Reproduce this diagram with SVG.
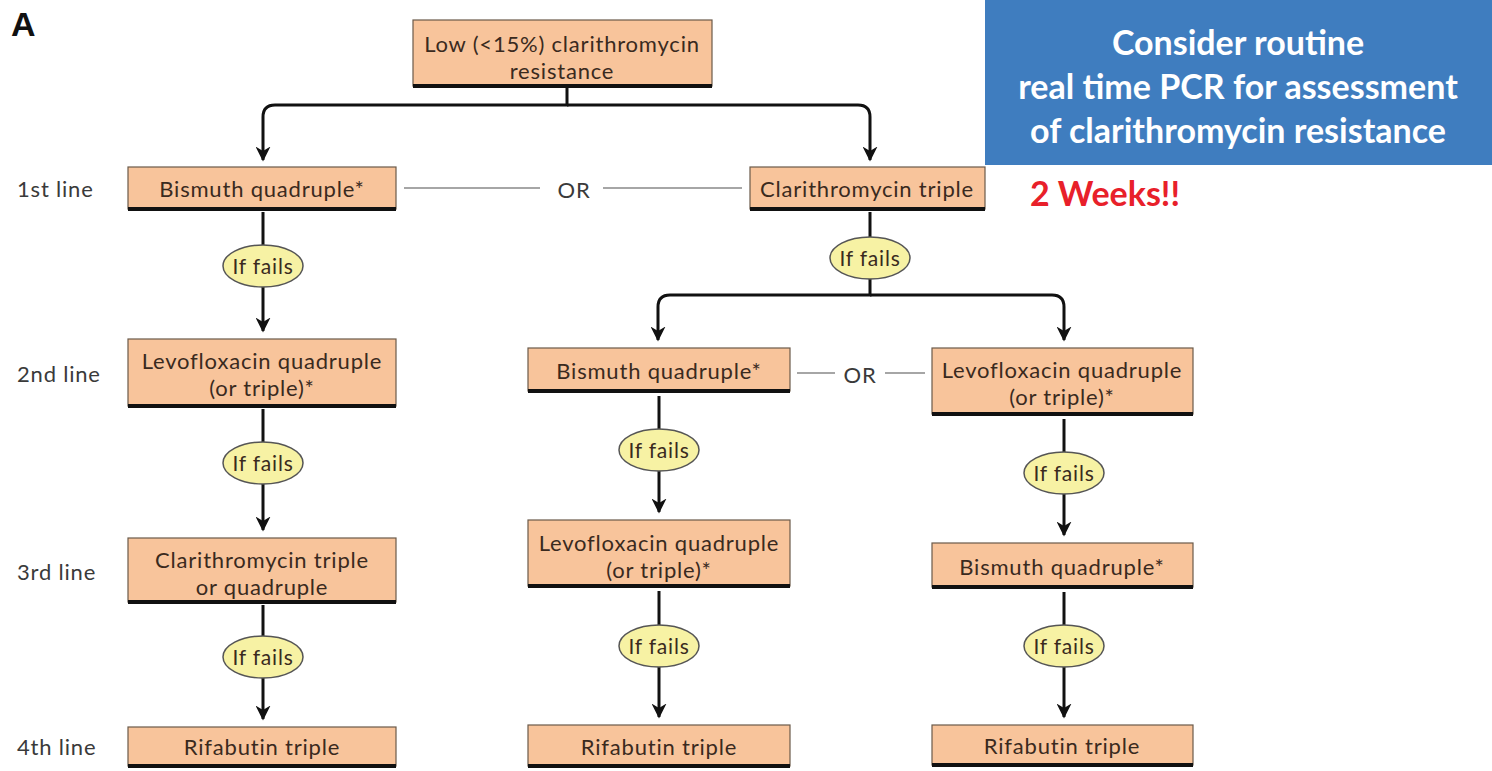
<svg xmlns="http://www.w3.org/2000/svg" width="1492" height="771" viewBox="0 0 1492 771">
  <defs>
    <marker id="arrow" viewBox="0 0 10 10" refX="9" refY="5" markerWidth="5" markerHeight="5" orient="auto" markerUnits="strokeWidth">
      <path d="M0,0 L10,5 L0,10 L3,5 Z" fill="#111"/>
    </marker>
  </defs>
  <style>
    .box { fill: #f8c49b; stroke: #6b5a4a; stroke-width: 1.2; }
    .base { stroke: #111; stroke-width: 4; }
    .txt { font-family: Lato, "Open Sans", "Liberation Sans", sans-serif; font-size: 22px; letter-spacing: 0.8px; fill: #3a2a1e; text-anchor: middle; dominant-baseline: central; }
    .lbl { font-family: Lato, "Open Sans", "Liberation Sans", sans-serif; font-size: 22px; letter-spacing: 0.8px; fill: #3a3a3a; dominant-baseline: central; }
    .fail { fill: #f7f2a4; stroke: #555; stroke-width: 1.5; }
    .ftxt { font-family: Lato, "Open Sans", "Liberation Sans", sans-serif; font-size: 21px; letter-spacing: 0.8px; fill: #3a2a1e; text-anchor: middle; dominant-baseline: central; }
    .flow { fill: none; stroke: #111; stroke-width: 3; }
    .or { stroke: #888; stroke-width: 1.5; }
    .ortxt { font-family: Lato, "Open Sans", "Liberation Sans", sans-serif; font-size: 22px; letter-spacing: 0.8px; fill: #3a3a3a; text-anchor: middle; dominant-baseline: central; }
    .note { font-family: Lato, "Open Sans", "Liberation Sans", sans-serif; font-weight: bold; font-size: 34px; fill: #ffffff; text-anchor: middle; dominant-baseline: central; }
  </style>

  <rect width="1492" height="771" fill="#ffffff"/>

  <text x="11" y="24" font-family="'Liberation Sans', Arial, sans-serif" font-weight="bold" font-size="34" fill="#111" dominant-baseline="central">A</text>

  <!-- row labels -->
  <g id="row-labels">
    <text class="lbl" x="17" y="188">1st line</text>
    <text class="lbl" x="17" y="373">2nd line</text>
    <text class="lbl" x="17" y="571">3rd line</text>
    <text class="lbl" x="17" y="746">4th line</text>
  </g>

  <!-- connectors -->
  <g id="connectors">
    <path class="flow" d="M567,88 V105 H275 Q263,105 263,117 V160" marker-end="url(#arrow)"/>
    <path class="flow" d="M567,105 H858 Q870,105 870,117 V160" marker-end="url(#arrow)"/>
    <line class="or" x1="404" y1="188" x2="540" y2="188"/>
    <line class="or" x1="603" y1="188" x2="742" y2="188"/>

    <!-- left column -->
    <line class="flow" x1="263" y1="212" x2="263" y2="246"/>
    <line class="flow" x1="263" y1="286" x2="263" y2="331" marker-end="url(#arrow)"/>
    <line class="flow" x1="263" y1="409" x2="263" y2="443"/>
    <line class="flow" x1="263" y1="483" x2="263" y2="530" marker-end="url(#arrow)"/>
    <line class="flow" x1="263" y1="605" x2="263" y2="637"/>
    <line class="flow" x1="263" y1="677" x2="263" y2="719" marker-end="url(#arrow)"/>

    <!-- right branch -->
    <line class="flow" x1="870" y1="212" x2="870" y2="238"/>
    <path class="flow" d="M870,278 V295 H670 Q658,295 658,307 V340" marker-end="url(#arrow)"/>
    <path class="flow" d="M870,295 H1052 Q1064,295 1064,307 V340" marker-end="url(#arrow)"/>
    <line class="or" x1="797" y1="373" x2="835" y2="373"/>
    <line class="or" x1="885" y1="373" x2="925" y2="373"/>

    <!-- middle column -->
    <line class="flow" x1="659" y1="396" x2="659" y2="430"/>
    <line class="flow" x1="659" y1="470" x2="659" y2="512" marker-end="url(#arrow)"/>
    <line class="flow" x1="659" y1="591" x2="659" y2="626"/>
    <line class="flow" x1="659" y1="666" x2="659" y2="717" marker-end="url(#arrow)"/>

    <!-- right column -->
    <line class="flow" x1="1064" y1="419" x2="1064" y2="453"/>
    <line class="flow" x1="1064" y1="493" x2="1064" y2="535" marker-end="url(#arrow)"/>
    <line class="flow" x1="1064" y1="592" x2="1064" y2="626"/>
    <line class="flow" x1="1064" y1="666" x2="1064" y2="717" marker-end="url(#arrow)"/>
  </g>

  <text class="ortxt" x="574" y="189">OR</text>
  <text class="ortxt" x="860" y="374">OR</text>

  <!-- treatment boxes -->
  <g id="start">
    <rect class="box" x="413" y="20" width="299" height="66"/>
    <line class="base" x1="413" y1="86" x2="712" y2="86"/>
    <text class="txt" x="562" y="43">Low (&lt;15%) clarithromycin<tspan x="562" dy="27">resistance</tspan></text>
  </g>

  <g id="l1-bismuth">
    <rect class="box" x="128" y="167" width="268" height="42"/>
    <line class="base" x1="128" y1="209" x2="396" y2="209"/>
    <text class="txt" x="262" y="188">Bismuth quadruple*</text>
  </g>

  <g id="l1-clarithromycin">
    <rect class="box" x="750" y="167" width="235" height="42"/>
    <line class="base" x1="750" y1="209" x2="985" y2="209"/>
    <text class="txt" x="867" y="188">Clarithromycin triple</text>
  </g>

  <g id="l2-levofloxacin-left">
    <rect class="box" x="128" y="339" width="268" height="67"/>
    <line class="base" x1="128" y1="406" x2="396" y2="406"/>
    <text class="txt" x="262" y="360">Levofloxacin quadruple<tspan x="262" dy="27">(or triple)*</tspan></text>
  </g>

  <g id="l3-clarithromycin">
    <rect class="box" x="128" y="538" width="268" height="64"/>
    <line class="base" x1="128" y1="602" x2="396" y2="602"/>
    <text class="txt" x="262" y="559">Clarithromycin triple<tspan x="262" dy="27">or quadruple</tspan></text>
  </g>

  <g id="l4-rifabutin-left">
    <rect class="box" x="128" y="727" width="268" height="39"/>
    <line class="base" x1="128" y1="766" x2="396" y2="766"/>
    <text class="txt" x="262" y="746">Rifabutin triple</text>
  </g>

  <g id="l2-bismuth-mid">
    <rect class="box" x="528" y="348" width="262" height="43"/>
    <line class="base" x1="528" y1="391" x2="790" y2="391"/>
    <text class="txt" x="659" y="370">Bismuth quadruple*</text>
  </g>

  <g id="l2-levofloxacin-right">
    <rect class="box" x="932" y="348" width="261" height="66"/>
    <line class="base" x1="932" y1="414" x2="1193" y2="414"/>
    <text class="txt" x="1062" y="369">Levofloxacin quadruple<tspan x="1062" dy="27">(or triple)*</tspan></text>
  </g>

  <g id="l3-levofloxacin-mid">
    <rect class="box" x="528" y="520" width="262" height="66"/>
    <line class="base" x1="528" y1="586" x2="790" y2="586"/>
    <text class="txt" x="659" y="542">Levofloxacin quadruple<tspan x="659" dy="27">(or  triple)*</tspan></text>
  </g>

  <g id="l3-bismuth-right">
    <rect class="box" x="932" y="543" width="261" height="44"/>
    <line class="base" x1="932" y1="587" x2="1193" y2="587"/>
    <text class="txt" x="1062" y="566">Bismuth quadruple*</text>
  </g>

  <g id="l4-rifabutin-mid">
    <rect class="box" x="528" y="725" width="262" height="41"/>
    <line class="base" x1="528" y1="766" x2="790" y2="766"/>
    <text class="txt" x="659" y="746">Rifabutin triple</text>
  </g>

  <g id="l4-rifabutin-right">
    <rect class="box" x="932" y="725" width="261" height="40"/>
    <line class="base" x1="932" y1="765" x2="1193" y2="765"/>
    <text class="txt" x="1062" y="745">Rifabutin triple</text>
  </g>

  <!-- failure decision points -->
  <g id="fail-l1">
    <ellipse class="fail" cx="263" cy="266" rx="40" ry="21"/>
    <text class="ftxt" x="263" y="265">If fails</text>
  </g>
  <g id="fail-l2">
    <ellipse class="fail" cx="263" cy="463" rx="40" ry="21"/>
    <text class="ftxt" x="263" y="462">If fails</text>
  </g>
  <g id="fail-l3">
    <ellipse class="fail" cx="263" cy="657" rx="40" ry="21"/>
    <text class="ftxt" x="263" y="656">If fails</text>
  </g>
  <g id="fail-r1">
    <ellipse class="fail" cx="870" cy="258" rx="40" ry="21"/>
    <text class="ftxt" x="870" y="257">If fails</text>
  </g>
  <g id="fail-m2">
    <ellipse class="fail" cx="659" cy="450" rx="40" ry="21"/>
    <text class="ftxt" x="659" y="449">If fails</text>
  </g>
  <g id="fail-m3">
    <ellipse class="fail" cx="659" cy="646" rx="40" ry="21"/>
    <text class="ftxt" x="659" y="645">If fails</text>
  </g>
  <g id="fail-r2">
    <ellipse class="fail" cx="1064" cy="473" rx="40" ry="21"/>
    <text class="ftxt" x="1064" y="472">If fails</text>
  </g>
  <g id="fail-r3">
    <ellipse class="fail" cx="1064" cy="646" rx="40" ry="21"/>
    <text class="ftxt" x="1064" y="645">If fails</text>
  </g>

  <!-- PCR note -->
  <g id="pcr-note">
    <rect x="985" y="0" width="507" height="165" fill="#3f7dbf"/>
    <text class="note" x="1238" y="41">Consider routine<tspan x="1238" dy="44">real time PCR for assessment</tspan><tspan x="1238" dy="44">of clarithromycin resistance</tspan></text>
  </g>
  <text x="1030" y="192" font-family="Lato, 'Open Sans', 'Liberation Sans', sans-serif" font-weight="bold" font-size="34" fill="#e8202a" dominant-baseline="central">2 Weeks!!</text>
</svg>
